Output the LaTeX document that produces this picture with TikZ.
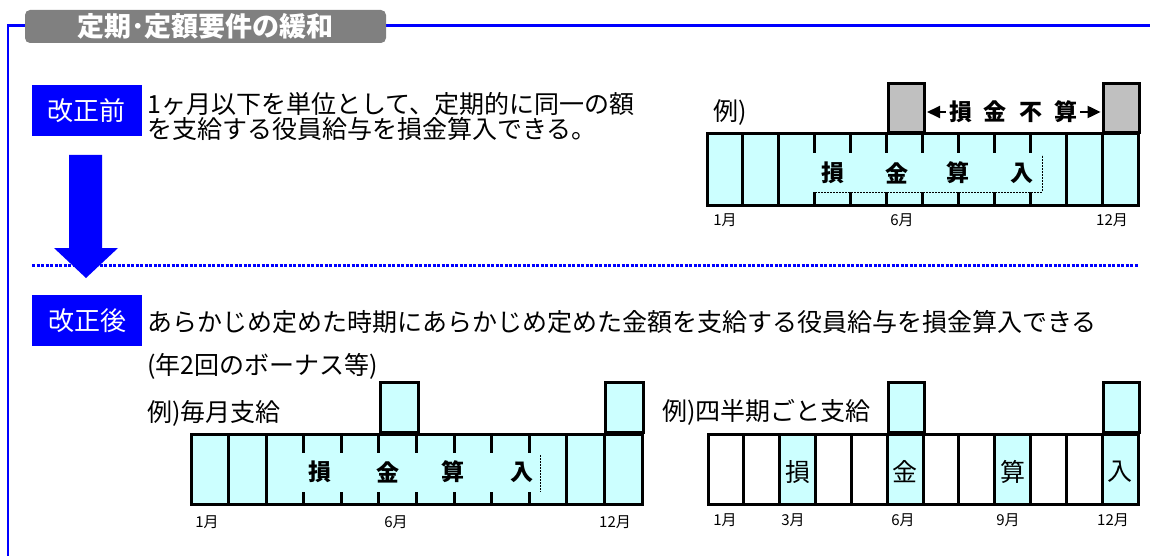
\documentclass[tikz,border=0pt]{standalone}
\usepackage{fontspec}
\setmainfont{Noto Sans CJK JP}
\usetikzlibrary{arrows.meta,positioning}
\definecolor{kaiblue}{RGB}{0,0,255}
\definecolor{paycyan}{RGB}{204,255,255}
\definecolor{nogray}{RGB}{192,192,192}
\definecolor{titlegray}{RGB}{128,128,128}

\begin{document}
\begin{tikzpicture}[x=1pt,y=-1pt]
\tikzstyle{every node}=[inner sep=0pt]
\tikzstyle{bluebox}=[fill=kaiblue,text=white,minimum width=110pt,minimum height=51pt,font=\fontsize{26}{26}\selectfont]
\tikzstyle{body}=[anchor=west,font=\fontsize{25}{25}\selectfont]
\tikzstyle{cell}=[draw=black,line width=3pt]
\tikzstyle{month}=[font=\fontsize{15}{15}\selectfont]
\tikzstyle{bigchar}=[font=\bfseries\fontsize{23}{23}\selectfont]
\tikzstyle{midchar}=[font=\fontsize{25}{25}\selectfont]
\tikzstyle{thin dash}=[line width=0.6pt,dash pattern=on 2pt off 1pt]

\useasboundingbox (0,0) rectangle (1150,556);

% frame and title
\draw[kaiblue,line width=2.5pt] (8,556) -- (8,25.5) -- (1150,25.5);
\node (title) [fill=titlegray,rounded corners=5pt,minimum width=361pt,minimum height=33pt,text=white,font=\bfseries\fontsize{27}{27}\selectfont] at (205.5,26.5) {定期･定額要件の緩和};

% before
\node (before) [bluebox] at (86.5,110.5) {改正前};
\node (beforetext) [body,align=left] at (147,116.5) {1ヶ月以下を単位として、定期的に同一の額\\を支給する役員給与を損金算入できる。};

\draw[kaiblue,line width=3pt,dash pattern=on 3pt off 1.5pt] (32,265) -- (1138,265);
\fill[kaiblue] (69,155) -- (102,155) -- (102,248) -- (118,248) -- (86,278) -- (54,248) -- (69,248) -- cycle;

% monthly, before
\node (ex) [body] at (713,113) {例)};
\fill[paycyan] (707,134) rectangle (1138,205);
\foreach \k in {1,2,10,11}
  \draw[cell] ({707+\k*35.917},134) -- ++(0,71);
\foreach \k in {3,...,9} {
  \draw[cell] ({707+\k*35.917},134) -- ++(0,19);
  \draw[cell] ({707+\k*35.917},192) -- (({707+\k*35.917},205);
}
\draw[cell] (707,134) rectangle (1138,205);
\draw[thin dash] (815,192) -- (1042,192) -- (1042,155);
\foreach \c/\x in {損/833,金/897,算/958,入/1022}
  \node (top\x) [bigchar] at (\x,173) {\c};
\node (nosix) [cell,fill=nogray,minimum width=35.9pt,minimum height=49pt,anchor=south west] at (886.6,134) {};
\node (notwelve) [cell,fill=nogray,minimum width=35.9pt,minimum height=49pt,anchor=south west] at (1102.1,134) {};
\node (loss) [bigchar,inner sep=3pt] at (1013,112) {損\hspace{12pt}金\hspace{12pt}不\hspace{12pt}算};
\draw[-{Triangle[length=13pt,width=12pt]},line width=2pt,shorten >=1.5pt] (loss.west) -- (nosix.east |- loss.west);
\draw[-{Triangle[length=13pt,width=12pt]},line width=2pt,shorten >=1.5pt] (loss.east) -- (notwelve.west |- loss.east);
\node (topm1) [month] at (725,220) {1月};
\node (topm6) [month] at (902,220) {6月};
\node (topm12) [month] at (1112,220) {12月};

% after
\node (after) [bluebox] at (87,320.5) {改正後};
\node (aftertext) [body] at (147,322) {あらかじめ定めた時期にあらかじめ定めた金額を支給する役員給与を損金算入できる};
\node (bonus) [body] at (147,366) {(年2回のボーナス等)};
\node (monthly) [body] at (147,413) {例)毎月支給};
\node (quarterly) [body] at (662,412) {例)四半期ごと支給};

% monthly, after
\fill[paycyan] (191,434) rectangle (642,504);
\foreach \k in {1,2,10,11}
  \draw[cell] ({191+\k*37.583},434) -- ++(0,70);
\foreach \k in {3,...,9} {
  \draw[cell] ({191+\k*37.583},434) -- ++(0,19);
  \draw[cell] ({191+\k*37.583},492) -- ({191+\k*37.583},504);
}
\draw[cell] (191,434) rectangle (642,504);
\draw[thin dash] (540,455) -- (540,492);
\foreach \c/\x in {損/320,金/388,算/453,入/522}
  \node (left\x) [bigchar] at (\x,472) {\c};
\node (lsix) [cell,fill=paycyan,minimum width=37.6pt,minimum height=50pt,anchor=south west] at (378.9,434) {};
\node (ltwelve) [cell,fill=paycyan,minimum width=37.6pt,minimum height=50pt,anchor=south west] at (604.4,434) {};
\node (lm1) [month] at (207,522) {1月};
\node (lm6) [month] at (396,522) {6月};
\node (lm12) [month] at (615,522) {12月};

% quarterly
\foreach \k in {2,5,8,11}
  \fill[paycyan] ({708+\k*35.833},434) rectangle ++(35.833,70);
\foreach \k in {0,...,11}
  \draw[cell] ({708+\k*35.833},434) rectangle ++(35.833,70);
\node (qsix) [cell,fill=paycyan,minimum width=35.8pt,minimum height=50pt,anchor=south west] at (887.2,434) {};
\node (qtwelve) [cell,fill=paycyan,minimum width=35.8pt,minimum height=50pt,anchor=south west] at (1102.2,434) {};
\foreach \c/\k in {損/2,金/5,算/8,入/11}
  \node (q\k) [midchar] at ({708+(\k+0.5)*35.833},472) {\c};
\node (qm1) [month] at (725,520) {1月};
\node (qm3) [month] at (793,520) {3月};
\node (qm6) [month] at (903,520) {6月};
\node (qm9) [month] at (1008,520) {9月};
\node (qm12) [month] at (1113,520) {12月};
\end{tikzpicture}
\end{document}
